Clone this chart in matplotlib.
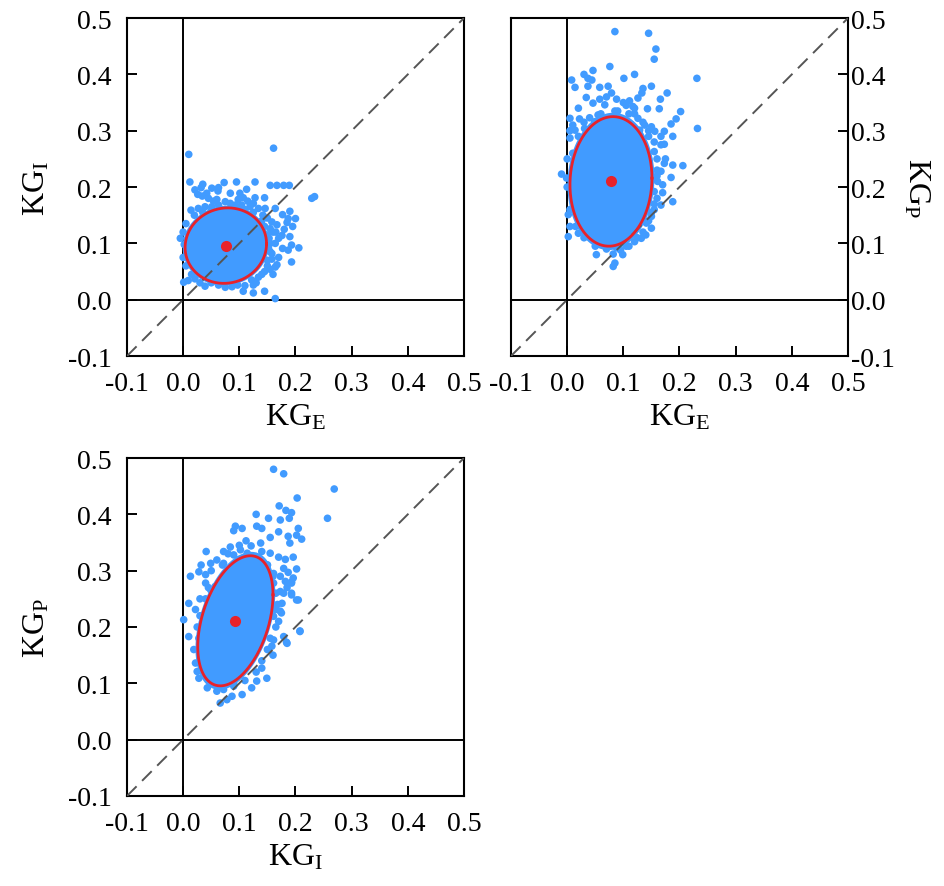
import numpy as np
import matplotlib
matplotlib.use("Agg")
import matplotlib.pyplot as plt

plt.rcParams['font.family'] = ['Liberation Serif', 'DejaVu Serif']
plt.rcParams['mathtext.fontset'] = 'custom'
plt.rcParams['mathtext.rm'] = 'Liberation Serif'
plt.rcParams['mathtext.it'] = 'Liberation Serif:italic'

blue = '#419bff'
red = '#e8222a'

# mean, half-width (x), half-height (y), correlation of the 95% ellipse
ell_ei = dict(mx=0.076, my=0.096, ax=0.0725, ay=0.067, rho=0.05)
ell_ep = dict(mx=0.078, my=0.210, ax=0.073, ay=0.115, rho=0.05)
ell_ip = dict(mx=0.093, my=0.211, ax=0.067, ay=0.1155, rho=0.40)

# scattered draws outside the dense core (KG_E vs KG_I)
pts_ei = [
    (0.010, 0.258), (0.161, 0.269), (0.012, 0.209), (0.073, 0.208), (0.095, 0.209),
    (0.128, 0.209), (0.155, 0.203), (0.167, 0.203), (0.179, 0.203), (0.189, 0.203),
    (0.021, 0.195), (0.032, 0.199), (0.042, 0.189), (0.051, 0.198), (0.062, 0.193),
    (0.045, 0.180), (0.054, 0.175), (0.034, 0.184), (0.026, 0.187), (0.063, 0.199),
    (0.084, 0.189), (0.101, 0.189), (0.107, 0.181), (0.113, 0.196), (0.128, 0.181),
    (0.145, 0.181), (0.229, 0.180), (0.234, 0.183), (0.014, 0.159),
    (0.075, 0.174), (0.084, 0.171), (0.093, 0.168), (0.063, 0.168), (0.051, 0.165),
    (0.039, 0.165), (0.027, 0.162), (0.104, 0.168), (0.119, 0.165), (0.134, 0.162),
    (0.125, 0.171), (0.146, 0.162), (0.164, 0.162), (0.177, 0.151), (0.190, 0.157),
    (0.187, 0.144), (0.200, 0.144), (0.158, 0.138), (0.167, 0.133), (0.185, 0.137),
    (0.155, 0.126), (0.176, 0.114), (0.190, 0.112), (0.170, 0.109), (0.164, 0.100),
    (0.177, 0.091), (0.193, 0.097), (0.206, 0.092), (0.187, 0.088), (0.158, 0.082),
    (0.158, 0.072), (0.167, 0.062), (0.193, 0.067), (0.155, 0.054), (0.164, 0.058),
    (0.152, 0.091), (0.153, 0.109), (-0.005, 0.109), (0.002, 0.098), (0.001, 0.031),
    (0.009, 0.034), (0.039, 0.024), (0.087, 0.023), (0.097, 0.026), (0.107, 0.015),
    (0.125, 0.026), (0.125, 0.012), (0.145, 0.015), (0.164, 0.002), (0.021, 0.037),
    (0.063, 0.026), (0.122, 0.035), (0.134, 0.040), (0.150, 0.145), (0.142, 0.150),
    (0.160, 0.120), (0.150, 0.070), (0.140, 0.045), (0.030, 0.030), (0.075, 0.022),
    (0.020, 0.150), (0.035, 0.155), (0.050, 0.158), (0.065, 0.162), (0.090, 0.165),
    (0.110, 0.160), (0.125, 0.155), (0.140, 0.140), (0.145, 0.130), (0.150, 0.115),
    (0.155, 0.100), (0.155, 0.085), (0.150, 0.060), (0.145, 0.050), (0.130, 0.030),
    (0.110, 0.025), (0.050, 0.030), (0.015, 0.045), (0.005, 0.060), (0.000, 0.075),
    (0.000, 0.120), (0.005, 0.135), (0.165, 0.120), (0.170, 0.075), (0.160, 0.045),
    (0.180, 0.125), (0.195, 0.130), (0.035, 0.205), (0.060, 0.178), (0.115, 0.175),
    (0.098, 0.178),
]

# KG_E vs KG_P
pts_ep = [
    (0.085, 0.476), (0.145, 0.473), (0.158, 0.445), (0.155, 0.427), (0.076, 0.414),
    (0.046, 0.407), (0.030, 0.400), (0.037, 0.393), (0.044, 0.390), (0.008, 0.390),
    (0.014, 0.377), (0.101, 0.393), (0.120, 0.400), (0.231, 0.393), (0.037, 0.379),
    (0.058, 0.377), (0.073, 0.379), (0.135, 0.375), (0.150, 0.379), (0.133, 0.367),
    (0.034, 0.359), (0.046, 0.349), (0.058, 0.356), (0.079, 0.367), (0.088, 0.356),
    (0.111, 0.353), (0.126, 0.358), (0.105, 0.345), (0.117, 0.343), (0.085, 0.335),
    (0.067, 0.346), (0.166, 0.356), (0.178, 0.367), (0.143, 0.339), (0.164, 0.339),
    (0.202, 0.334), (0.194, 0.321), (0.185, 0.312), (0.173, 0.299), (0.232, 0.304),
    (0.005, 0.322), (0.022, 0.321), (0.040, 0.323), (0.055, 0.328), (0.049, 0.316),
    (0.014, 0.301), (0.031, 0.304), (0.126, 0.322), (0.138, 0.310), (0.150, 0.307),
    (0.156, 0.299), (0.167, 0.290), (0.129, 0.301), (0.005, 0.287), (0.188, 0.290),
    (0.173, 0.276), (0.167, 0.275), (0.155, 0.263), (0.173, 0.242), (0.188, 0.239),
    (0.206, 0.238), (0.167, 0.228), (0.185, 0.217), (0.161, 0.210), (0.170, 0.204),
    (0.155, 0.192), (0.188, 0.174), (0.167, 0.168), (-0.010, 0.223), (-0.001, 0.216),
    (0.002, 0.151), (0.005, 0.130), (0.002, 0.112), (0.150, 0.127), (0.132, 0.109),
    (0.120, 0.103), (0.105, 0.095), (0.088, 0.092), (0.082, 0.081), (0.099, 0.080),
    (0.052, 0.080), (0.085, 0.065), (0.082, 0.059), (0.073, 0.109), (0.061, 0.103),
    (0.043, 0.109), (0.020, 0.118), (0.150, 0.148), (0.155, 0.160), (0.141, 0.136),
    (0.145, 0.290), (0.110, 0.330), (0.020, 0.340), (0.145, 0.250), (0.160, 0.230),
    (0.150, 0.215), (0.140, 0.115), (0.020, 0.290), (0.010, 0.260), (0.010, 0.180),
    (0.010, 0.310), (0.030, 0.315), (0.060, 0.330), (0.090, 0.335), (0.120, 0.330),
    (0.135, 0.315), (0.145, 0.300), (0.155, 0.280), (0.160, 0.250), (0.160, 0.220),
    (0.160, 0.180), (0.155, 0.170), (0.150, 0.155), (0.145, 0.140), (0.135, 0.120),
    (0.125, 0.110), (0.110, 0.095), (0.095, 0.088), (0.070, 0.090), (0.050, 0.095),
    (0.030, 0.110), (0.015, 0.130), (0.005, 0.160), (0.000, 0.200), (0.000, 0.250),
    (0.005, 0.300), (0.100, 0.350), (0.070, 0.360), (0.120, 0.340), (0.175, 0.250),
    (0.170, 0.190),
]

# KG_I vs KG_P
pts_ip = [
    (0.161, 0.480), (0.179, 0.472), (0.269, 0.445), (0.203, 0.429), (0.171, 0.415),
    (0.183, 0.407), (0.193, 0.403), (0.189, 0.393), (0.173, 0.390), (0.130, 0.400),
    (0.152, 0.393), (0.257, 0.393), (0.093, 0.379), (0.105, 0.375), (0.090, 0.371),
    (0.131, 0.379), (0.140, 0.375), (0.205, 0.375), (0.170, 0.369), (0.155, 0.359),
    (0.187, 0.361), (0.202, 0.363), (0.211, 0.356), (0.190, 0.349), (0.112, 0.353),
    (0.121, 0.344), (0.138, 0.349), (0.041, 0.334), (0.072, 0.334), (0.084, 0.342),
    (0.102, 0.337), (0.114, 0.331), (0.140, 0.334), (0.155, 0.331), (0.170, 0.324),
    (0.182, 0.320), (0.196, 0.324), (0.032, 0.310), (0.049, 0.313), (0.060, 0.319),
    (0.072, 0.313), (0.090, 0.328), (0.013, 0.290), (0.028, 0.298), (0.040, 0.293),
    (0.179, 0.304), (0.187, 0.297), (0.202, 0.303), (0.161, 0.295), (0.173, 0.290),
    (0.196, 0.287), (0.040, 0.278), (0.049, 0.266), (0.057, 0.272), (0.161, 0.278),
    (0.173, 0.263), (0.182, 0.281), (0.193, 0.278), (0.179, 0.260), (0.193, 0.257),
    (0.202, 0.248), (0.176, 0.242), (0.164, 0.231), (0.173, 0.228), (0.161, 0.219),
    (0.208, 0.192), (0.179, 0.183), (0.185, 0.171), (0.161, 0.177), (0.158, 0.166),
    (0.010, 0.242), (0.022, 0.231), (0.001, 0.213), (0.010, 0.183), (0.019, 0.160),
    (0.022, 0.136), (0.025, 0.121), (0.028, 0.109), (0.043, 0.092), (0.060, 0.086),
    (0.072, 0.089), (0.090, 0.095), (0.105, 0.080), (0.087, 0.077), (0.078, 0.071),
    (0.066, 0.065), (0.140, 0.127), (0.149, 0.109), (0.131, 0.104), (0.122, 0.092),
    (0.208, 0.193), (0.184, 0.173), (0.193, 0.260), (0.205, 0.248), (0.193, 0.280),
    (0.150, 0.310), (0.120, 0.315), (0.030, 0.250), (0.025, 0.200), (0.160, 0.150),
    (0.050, 0.300), (0.070, 0.310), (0.100, 0.320), (0.130, 0.325), (0.150, 0.310),
    (0.160, 0.290), (0.165, 0.260), (0.168, 0.240), (0.165, 0.200), (0.155, 0.180),
    (0.150, 0.160), (0.140, 0.140), (0.130, 0.120), (0.110, 0.105), (0.090, 0.100),
    (0.070, 0.095), (0.050, 0.100), (0.040, 0.120), (0.030, 0.150), (0.028, 0.180),
    (0.030, 0.220), (0.040, 0.250), (0.045, 0.270), (0.170, 0.210), (0.175, 0.225),
    (0.100, 0.345), (0.080, 0.330), (0.185, 0.270),
]

ticks = [-0.1, 0.0, 0.1, 0.2, 0.3, 0.4, 0.5]
tick_labels = ['-0.1', '0.0', '0.1', '0.2', '0.3', '0.4', '0.5']


def ellipse_xy(e, scale=1.0):
    t = np.linspace(0, 2 * np.pi, 300)
    x = e['mx'] + scale * e['ax'] * np.cos(t)
    y = e['my'] + scale * e['ay'] * (e['rho'] * np.cos(t) + np.sqrt(1 - e['rho'] ** 2) * np.sin(t))
    return x, y


def draw_panel(ax, pts, ell, xlabel, ylabel, yright=False):
    ax.set_xlim(-0.1, 0.5)
    ax.set_ylim(-0.1, 0.5)
    # reference lines
    ax.axvline(0, color='black', lw=1.4, zorder=1)
    ax.axhline(0, color='black', lw=1.4, zorder=1)
    ax.plot([-0.1, 0.5], [-0.1, 0.5], color='#555555', lw=1.4, dashes=(7, 4), zorder=4)

    # dense core of draws + scattered ones
    cx, cy = ellipse_xy(ell, 1.06)
    ax.fill(cx, cy, color=blue, lw=0, zorder=2)
    p = np.array(pts)
    ax.scatter(p[:, 0], p[:, 1], s=30, color=blue, edgecolors='none', zorder=3)

    ex, ey = ellipse_xy(ell)
    ax.plot(ex, ey, color=red, lw=2.0, zorder=5)
    ax.plot(ell['mx'], ell['my'], 'o', color=red, ms=8, mec='none', zorder=6)

    ax.set_xticks(ticks)
    ax.set_xticklabels(tick_labels)
    ax.set_yticks(ticks)
    ax.set_yticklabels(tick_labels)
    ax.tick_params(direction='in', length=7, width=1.4, labelsize=20, colors='black')
    ax.tick_params(axis='x', pad=11)
    if yright:
        ax.yaxis.tick_right()
        ax.tick_params(axis='y', direction='in', length=7, width=1.4, pad=2)
        ax.yaxis.set_label_position('right')
        ax.set_ylabel(ylabel, fontsize=23, rotation=270, labelpad=26)
    else:
        ax.tick_params(axis='y', pad=11)
        ax.set_ylabel(ylabel, fontsize=23, labelpad=12)
    ax.set_xlabel(xlabel, fontsize=23, labelpad=4)
    for s in ax.spines.values():
        s.set_linewidth(1.5)


fig = plt.figure(figsize=(9.44, 8.87), dpi=100)
ax1 = fig.add_axes([0.1345, 0.5975, 0.357, 0.381])
ax2 = fig.add_axes([0.5413, 0.5975, 0.357, 0.381])
ax3 = fig.add_axes([0.1345, 0.1015, 0.357, 0.381])

draw_panel(ax1, pts_ei, ell_ei, r'$\mathrm{KG}_\mathrm{E}$', r'$\mathrm{KG}_\mathrm{I}$')
draw_panel(ax2, pts_ep, ell_ep, r'$\mathrm{KG}_\mathrm{E}$', r'$\mathrm{KG}_\mathrm{P}$', yright=True)
draw_panel(ax3, pts_ip, ell_ip, r'$\mathrm{KG}_\mathrm{I}$', r'$\mathrm{KG}_\mathrm{P}$')

fig.savefig('out.png', dpi=100)
